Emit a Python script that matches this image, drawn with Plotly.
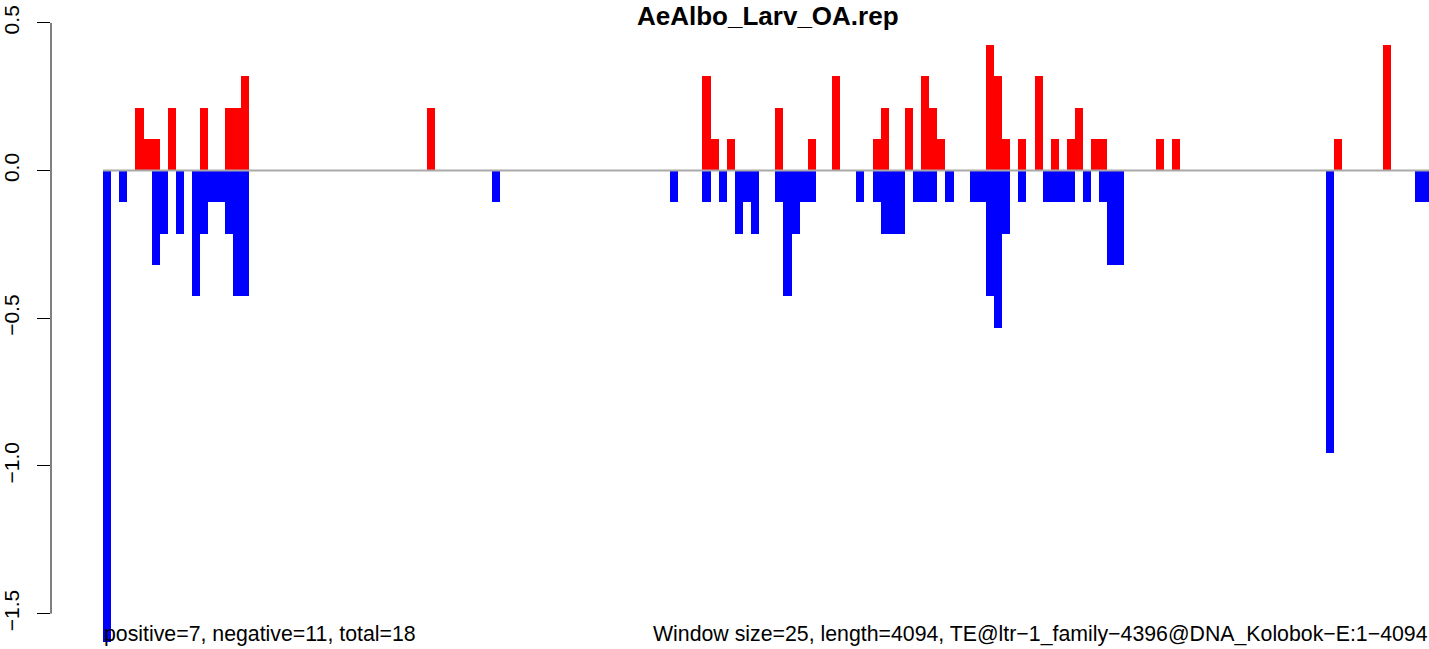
import plotly.graph_objects as go

# ---- data (window index -> value) ----
n_windows = 164  # 4094 / 25 window size
pos_windows = [4, 5, 6, 8, 12, 15, 16, 17, 40, 74, 75, 77, 83, 87, 90, 95, 96, 99,
               101, 102, 103, 109, 110, 111, 113, 115, 117, 119, 120, 122, 123,
               130, 132, 152, 158]
pos_values = [0.213, 0.106, 0.106, 0.213, 0.213, 0.213, 0.213, 0.319, 0.213, 0.319,
              0.106, 0.106, 0.213, 0.106, 0.319, 0.106, 0.213, 0.213, 0.319, 0.213,
              0.106, 0.426, 0.319, 0.106, 0.106, 0.319, 0.106, 0.106, 0.213, 0.106,
              0.106, 0.106, 0.106, 0.106, 0.426]
neg_windows = [0, 2, 6, 7, 9, 11, 12, 13, 14, 15, 16, 17, 48, 70, 74, 76, 78, 79, 80,
               83, 84, 85, 86, 87, 93, 95, 96, 97, 98, 100, 101, 102, 104, 107, 108,
               109, 110, 111, 113, 116, 117, 118, 119, 121, 123, 124, 125, 151, 162, 163]
neg_values = [-1.596, -0.106, -0.319, -0.213, -0.213, -0.426, -0.213, -0.106, -0.106,
              -0.213, -0.426, -0.426, -0.106, -0.106, -0.106, -0.106, -0.213, -0.106,
              -0.213, -0.106, -0.426, -0.213, -0.106, -0.106, -0.106, -0.106, -0.213,
              -0.213, -0.213, -0.106, -0.106, -0.106, -0.106, -0.106, -0.106, -0.426,
              -0.532, -0.213, -0.106, -0.106, -0.106, -0.106, -0.106, -0.106, -0.106,
              -0.319, -0.319, -0.957, -0.106, -0.106]
y_tick_vals = [0.5, 0.0, -0.5, -1.0, -1.5]
y_tick_text = ["0.5", "0.0", "\u22120.5", "\u22121.0", "\u22121.5"]

title_text = "AeAlbo_Larv_OA.rep"
left_note = "positive=7, negative=11, total=18"
right_note = ("Window size=25, length=4094, TE@ltr\u22121_family\u22124396@"
              "DNA_Kolobok\u2212E:1\u22124094")

FONT = "Liberation Sans, Arial, sans-serif"

fig = go.Figure()
fig.add_trace(go.Bar(x=[w + 0.5 for w in pos_windows], y=pos_values, width=1,
                     marker=dict(color="#FF0000", line=dict(width=0)),
                     showlegend=False, hoverinfo="skip"))
fig.add_trace(go.Bar(x=[w + 0.5 for w in neg_windows], y=neg_values, width=1,
                     marker=dict(color="#0000FF", line=dict(width=0)),
                     showlegend=False, hoverinfo="skip"))
fig.add_trace(go.Scatter(x=[0, n_windows], y=[0, 0], mode="lines",
                         line=dict(color="#A9A9A9", width=2),
                         showlegend=False, hoverinfo="skip"))

W, H = 1429, 649
ml, mr, mt, mb = 51, 0, 21, 0
px_per_win = 8.1
first_bar_px = 103
x_lo = (ml - first_bar_px) / px_per_win
x_hi = (W - mr - first_bar_px) / px_per_win

y_top = 0.5065
y_bot = -1.6197

fig.update_layout(
    width=W, height=H,
    margin=dict(l=ml, r=mr, t=mt, b=mb, pad=0),
    paper_bgcolor="white", plot_bgcolor="white",
    barmode="overlay", bargap=0,
    font=dict(family=FONT, size=21, color="black"),
    xaxis=dict(range=[x_lo, x_hi], visible=False, fixedrange=True),
    yaxis=dict(range=[y_bot, y_top], tickmode="array", tickvals=y_tick_vals,
               ticktext=y_tick_text, tickangle=-90, ticks="outside", ticklen=13,
               tickwidth=1, tickcolor="black", showgrid=False, zeroline=False,
               showline=False, tickfont=dict(family=FONT, size=21, color="black"),
               ticklabelstandoff=10, fixedrange=True),
    shapes=[dict(type="line", xref="paper", yref="y", x0=0, x1=0,
                 y0=min(y_tick_vals), y1=max(y_tick_vals),
                 line=dict(color="black", width=1))],
    annotations=[
        dict(text="<b>" + title_text + "</b>", xref="paper", yref="paper",
             x=(768 - ml) / (W - ml - mr), y=1 + mt / (H - mt - mb),
             xanchor="center", yanchor="top", showarrow=False, borderpad=0,
             font=dict(family=FONT, size=26, color="black")),
        dict(text=left_note, xref="x", yref="paper", x=0,
             y=(H - 634) / (H - mt - mb), xanchor="left", yanchor="middle",
             showarrow=False, borderpad=0,
             font=dict(family=FONT, size=21.3, color="black")),
        dict(text=right_note, xref="paper", yref="paper", x=1,
             y=(H - 634) / (H - mt - mb), xanchor="right", yanchor="middle",
             showarrow=False, borderpad=0,
             font=dict(family=FONT, size=21.3, color="black")),
    ],
)

fig.write_html(
    "out.html",
    config={"displayModeBar": False, "staticPlot": True},
    post_script="document.body.style.margin='0';document.body.style.padding='0';"
                "document.body.style.overflow='hidden';",
)
